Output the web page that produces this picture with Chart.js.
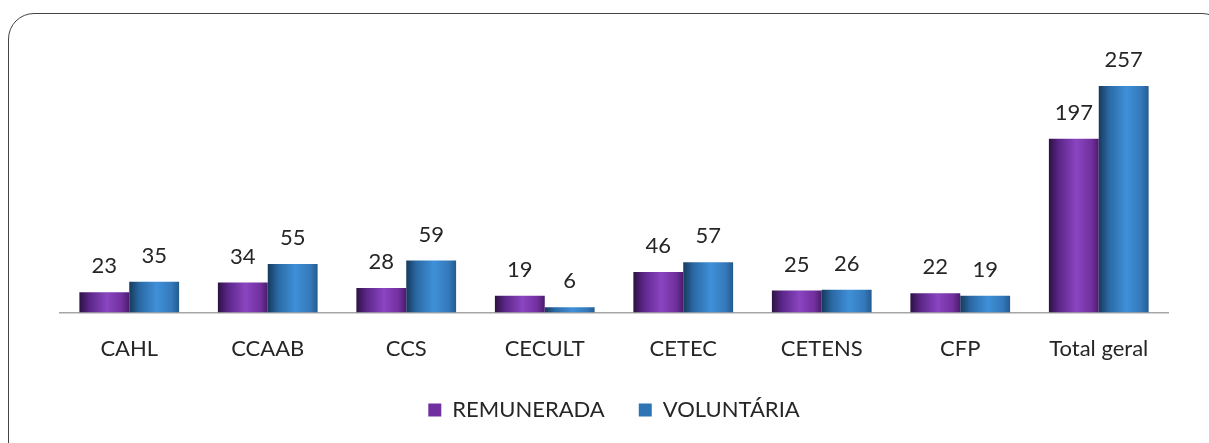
<!DOCTYPE html>
<html>
<head>
<meta charset="utf-8">
<script src="https://cdn.jsdelivr.net/npm/chart.js@4"></script>
<style>
  html, body { margin: 0; padding: 0; background: #fff; }
  #wrap { position: relative; width: 1209px; height: 443px; overflow: hidden; }
  #frame {
    position: absolute; left: 8px; top: 13px; width: 1220px; height: 460px;
    border: 1.5px solid #444; border-radius: 26px; box-sizing: border-box;
  }
  canvas { position: absolute; left: 0; top: 0; }
</style>
</head>
<body>
<div id="wrap">
  <div id="frame"></div>
  <canvas id="chart" width="1209" height="443"></canvas>
</div>
<script>
const categories = ['CAHL', 'CCAAB', 'CCS', 'CECULT', 'CETEC', 'CETENS', 'CFP', 'Total geral'];
const remunerada = [23, 34, 28, 19, 46, 25, 22, 197];
const voluntaria = [35, 55, 59, 6, 57, 26, 19, 257];

const FONT = 'Lato, "Open Sans", sans-serif';

// horizontal gradient per bar so it looks like the shaded office bars
const shadeBars = {
  id: 'shadeBars',
  beforeDatasetDraw(chart, args) {
    const ctx = chart.ctx;
    const meta = args.meta;
    const stops = args.index === 0
      ? ['#2c1243', '#5b2688', '#8a45c0', '#72309f', '#4a1d6c']
      : ['#163a5c', '#2a68a3', '#3f90d8', '#3479bb', '#245b8e'];
    meta.data.forEach(el => {
      const g = ctx.createLinearGradient(el.x - el.width / 2, 0, el.x + el.width / 2, 0);
      g.addColorStop(0, stops[0]);
      g.addColorStop(0.2, stops[1]);
      g.addColorStop(0.55, stops[2]);
      g.addColorStop(0.85, stops[3]);
      g.addColorStop(1, stops[4]);
      el.options = Object.assign({}, el.options, { backgroundColor: g });
    });
  }
};

// value labels above bars
const valueLabels = {
  id: 'valueLabels',
  afterDatasetsDraw(chart) {
    const ctx = chart.ctx;
    ctx.save();
    ctx.font = '22px ' + FONT;
    ctx.fillStyle = '#262626';
    ctx.textAlign = 'center';
    ctx.textBaseline = 'alphabetic';
    chart.data.datasets.forEach((ds, di) => {
      chart.getDatasetMeta(di).data.forEach((el, i) => {
        ctx.fillText(ds.data[i], el.x, el.y - 19);
      });
    });
    ctx.restore();
  }
};

// legend padding also sets item spacing; pull the legend up a bit
const legendShift = {
  id: 'legendShift',
  afterLayout(chart) {
    if (chart.legend) {
      chart.legend.top -= 20;
      chart.legend.bottom -= 20;
    }
  }
};

new Chart(document.getElementById('chart'), {
  type: 'bar',
  data: {
    labels: categories,
    datasets: [
      { label: 'REMUNERADA', data: remunerada, backgroundColor: '#7030a0' },
      { label: 'VOLUNTÁRIA', data: voluntaria, backgroundColor: '#2e75b6' }
    ]
  },
  options: {
    responsive: false,
    animation: false,
    layout: { padding: { left: 60, right: 41, top: 48, bottom: -8 } },
    datasets: { bar: { categoryPercentage: 0.72, barPercentage: 1.0 } },
    scales: {
      x: {
        grid: { display: false, drawTicks: false },
        border: { display: true, color: '#a6a6a6', width: 1.5 },
        ticks: { color: '#262626', font: { family: FONT, size: 22 }, padding: 23 }
      },
      y: { display: false, min: 0, max: 300 }
    },
    plugins: {
      legend: {
        position: 'bottom',
        labels: {
          color: '#262626',
          font: { family: FONT, size: 22 },
          boxWidth: 13, boxHeight: 13, padding: 34
        }
      },
      tooltip: { enabled: false }
    }
  },
  plugins: [shadeBars, valueLabels, legendShift]
});
</script>
</body>
</html>
